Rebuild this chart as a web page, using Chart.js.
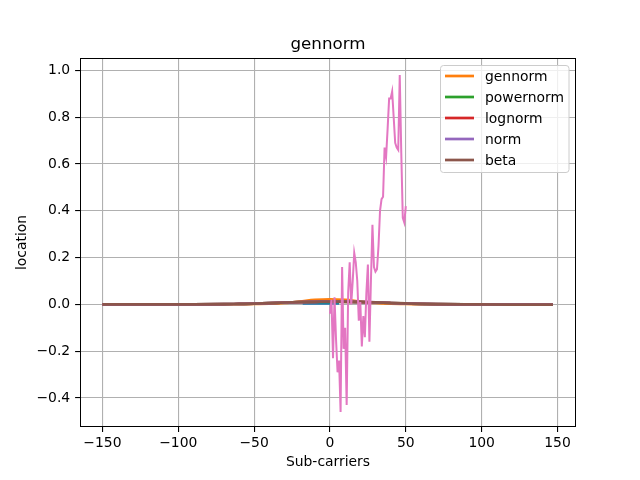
<!DOCTYPE html>
<html>
<head>
<meta charset="utf-8">
<script src="https://cdn.jsdelivr.net/npm/chart.js@4"></script>
<style>
  html, body { margin: 0; padding: 0; background: #fff; }
  #wrap { width: 640px; height: 480px; }
</style>
</head>
<body>
<div id="wrap"><canvas id="c" width="640" height="480"></canvas></div>
<script>
// ===== data =====
const xTicks = [-150, -100, -50, 0, 50, 100, 150];
const yTicks = [-0.4, -0.2, 0.0, 0.2, 0.4, 0.6, 0.8, 1.0];

// measured sub-carrier values
const blueX = [-18, -15, -12, -9, -6, -3, 0, 3, 6];
const blueY = [0.003, 0.004, 0.003, 0.004, 0.003, 0.004, 0.003, 0.004, 0.003];

const pinkX = [0, 1, 2, 3, 4, 5, 6, 7, 8, 9, 10, 11, 12, 13, 14, 15, 16, 17, 18, 19, 20,
  21, 22, 23, 24, 25, 26, 27, 28, 29, 30, 31, 32, 33, 34, 35, 36, 37, 38, 39, 40,
  41, 42, 43, 44, 45, 46, 47, 48, 49, 50];
const pinkY = [-0.04, 0.02, -0.23, 0.03, -0.15, -0.29, -0.24, -0.46, 0.16, -0.19, -0.10,
  -0.43, 0.05, 0.18, 0.00, 0.10, 0.22, 0.18, 0.10, -0.07, 0.01,
  -0.18, -0.05, -0.14, 0.05, 0.17, -0.16, 0.10, 0.34, 0.16, 0.14,
  0.15, 0.25, 0.40, 0.45, 0.46, 0.67, 0.63, 0.75, 0.88, 0.88,
  0.91, 0.80, 0.69, 0.67, 0.66, 0.98, 0.65, 0.37, 0.35, 0.42];

// fitted distributions
const fitX = [-150, -120, -90, -70, -60, -50, -40, -30, -20, -10, 0, 10, 20, 30, 40, 50, 60, 70, 90, 120, 147];
const gennormY   = [0.000, 0.000, 0.000, 0.000, 0.001, 0.002, 0.003, 0.006, 0.012, 0.019, 0.022, 0.019, 0.012, 0.006, 0.003, 0.002, 0.001, 0.000, 0.000, 0.000, 0.000];
const powernormY = [0.000, 0.000, 0.000, 0.001, 0.002, 0.003, 0.005, 0.008, 0.010, 0.011, 0.011, 0.011, 0.010, 0.008, 0.006, 0.004, 0.002, 0.001, 0.000, 0.000, -0.001];
const lognormY   = [0.000, 0.000, 0.000, 0.001, 0.002, 0.003, 0.005, 0.008, 0.010, 0.011, 0.012, 0.011, 0.010, 0.008, 0.006, 0.004, 0.002, 0.001, 0.000, -0.001, -0.001];
const normY      = [0.000, 0.000, 0.000, 0.001, 0.002, 0.003, 0.005, 0.008, 0.010, 0.011, 0.012, 0.012, 0.011, 0.009, 0.006, 0.004, 0.002, 0.001, 0.000, -0.001, -0.001];
const betaY      = [0.000, 0.000, 0.000, 0.001, 0.002, 0.003, 0.005, 0.008, 0.010, 0.011, 0.012, 0.012, 0.011, 0.009, 0.006, 0.004, 0.002, 0.001, 0.000, -0.001, -0.001];

const FONT = 'DejaVu Sans';
const COLORS = {
  c0: '#1f77b4', c1: '#ff7f0e', c2: '#2ca02c', c3: '#d62728',
  c4: '#9467bd', c5: '#8c564b', c6: '#e377c2'
};

function pts(xs, ys) {
  return xs.map((x, i) => ({ x, y: ys[i] }));
}

function minus(s) {
  return String(s).replace('-', '\u2212');
}

// matplotlib order: later drawn on top -> higher z gets lower chart.js order
function series(label, xs, ys, color, z, width, smooth) {
  return {
    label,
    data: pts(xs, ys),
    borderColor: color,
    backgroundColor: color,
    borderWidth: width,
    pointRadius: 0,
    fill: false,
    order: 10 - z,
    cubicInterpolationMode: smooth ? 'monotone' : 'default',
    tension: 0
  };
}

const datasets = [
  series('_data', blueX, blueY, COLORS.c0, 0, 2, false),
  series('gennorm', fitX, gennormY, COLORS.c1, 1, 2.7, true),
  series('powernorm', fitX, powernormY, COLORS.c2, 2, 2.7, true),
  series('lognorm', fitX, lognormY, COLORS.c3, 3, 2.7, true),
  series('norm', fitX, normY, COLORS.c4, 4, 2.7, true),
  series('beta', fitX, betaY, COLORS.c5, 5, 2.7, true),
  series('_raw', pinkX, pinkY, COLORS.c6, 6, 2, false)
];

// ===== frame, title, legend (matplotlib look) =====
const mplDecor = {
  id: 'mplDecor',
  afterDraw(chart) {
    const { ctx, chartArea: a } = chart;
    ctx.save();
    // frame
    ctx.strokeStyle = '#000';
    ctx.lineWidth = 1;
    ctx.strokeRect(Math.round(a.left) + 0.5, Math.round(a.top) + 0.5,
      Math.round(a.right - a.left) - 1, Math.round(a.bottom - a.top) - 1);

    // title
    ctx.fillStyle = '#000';
    ctx.font = '16.7px "' + FONT + '"';
    ctx.textAlign = 'center';
    ctx.textBaseline = 'alphabetic';
    ctx.fillText('gennorm', (a.left + a.right) / 2, 49);

    // legend
    const items = chart.data.datasets.filter(d => !d.label.startsWith('_'));
    const bx = 440.5, by = 65.5, bw = 128.5, bh = 107, r = 3;
    ctx.beginPath();
    ctx.roundRect(bx, by, bw, bh, r);
    ctx.fillStyle = 'rgba(255,255,255,0.8)';
    ctx.fill();
    ctx.strokeStyle = '#cccccc';
    ctx.lineWidth = 1;
    ctx.stroke();

    ctx.font = '13.9px "' + FONT + '"';
    ctx.textAlign = 'left';
    ctx.textBaseline = 'middle';
    items.forEach((d, i) => {
      const y = 76 + i * 21;
      ctx.beginPath();
      ctx.moveTo(445, y);
      ctx.lineTo(474, y);
      ctx.strokeStyle = d.borderColor;
      ctx.lineWidth = d.borderWidth;
      ctx.stroke();
      ctx.fillStyle = '#000';
      ctx.fillText(d.label, 485, y + 1);
    });
    ctx.restore();
  }
};

new Chart(document.getElementById('c'), {
  type: 'line',
  data: { datasets },
  plugins: [mplDecor],
  options: {
    responsive: false,
    animation: false,
    devicePixelRatio: 1,
    layout: { padding: { left: 0, right: 64, top: 58, bottom: 0 } },
    plugins: {
      legend: { display: false },
      title: { display: false },
      tooltip: { enabled: false }
    },
    scales: {
      x: {
        type: 'linear',
        min: -164.8,
        max: 162.2,
        afterFit: s => { s.height = 53; },
        afterBuildTicks: s => { s.ticks = xTicks.map(v => ({ value: v })); },
        grid: {
          color: '#b0b0b0', lineWidth: 1.1,
          drawTicks: true, tickLength: 4.9, tickColor: '#000', tickWidth: 1.1
        },
        border: { display: false },
        ticks: {
          color: '#000', padding: 3.5, maxRotation: 0, autoSkip: false,
          font: { family: FONT, size: 13.9 },
          callback: v => minus(v)
        },
        title: {
          display: true, text: 'Sub-carriers', color: '#000',
          font: { family: FONT, size: 13.9 },
          padding: { top: 0, bottom: 9.7 }
        }
      },
      y: {
        type: 'linear',
        min: -0.524,
        max: 1.053,
        afterFit: s => { s.width = 80; },
        afterBuildTicks: s => { s.ticks = yTicks.map(v => ({ value: v })); },
        grid: {
          color: '#b0b0b0', lineWidth: 1.1,
          drawTicks: true, tickLength: 4.9, tickColor: '#000', tickWidth: 1.1
        },
        border: { display: false },
        ticks: {
          color: '#000', padding: 4.9, autoSkip: false,
          font: { family: FONT, size: 13.9 },
          callback: v => minus(Number(v).toFixed(1))
        },
        title: {
          display: true, text: 'location', color: '#000',
          font: { family: FONT, size: 13.9 },
          padding: { top: 13.7, bottom: 0 }
        }
      }
    }
  }
});
</script>
</body>
</html>
